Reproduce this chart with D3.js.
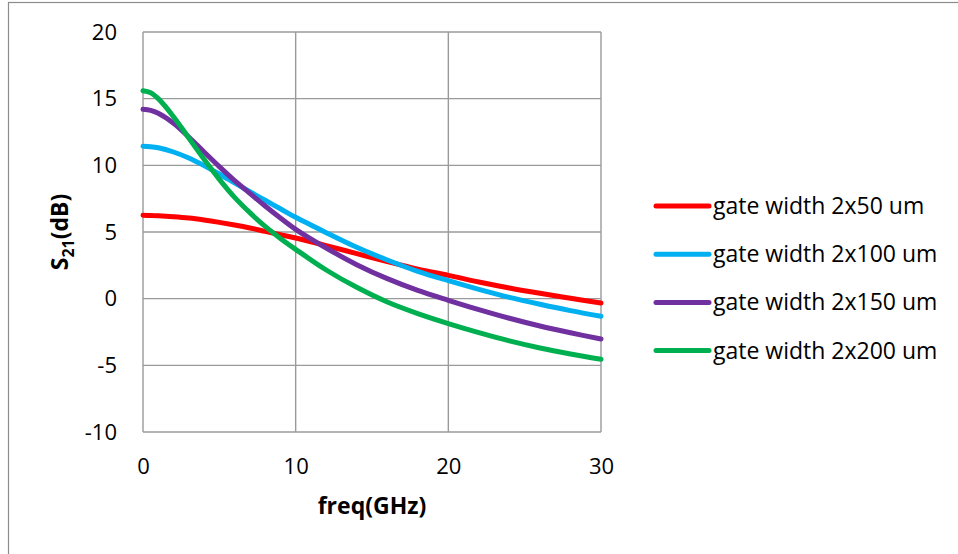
<!DOCTYPE html>
<html>
<head>
<meta charset="utf-8">
<script src="https://cdn.jsdelivr.net/npm/d3@7"></script>
<style>
html,body{margin:0;padding:0;background:#fff;}
svg{display:block;}
text{font-family:"Open Sans",Lato,sans-serif;fill:#000;}
</style>
</head>
<body>
<svg id="chart" width="958" height="554"></svg>
<script>
const freq = [0,0.5,1,2,3,4,5,6,7,8,9,10,12,14,16,18,20,22,24,26,28,30];
const s21_2x50  = [6.25,6.24,6.22,6.15,6.05,5.9,5.72,5.52,5.3,5.05,4.8,4.55,3.98,3.38,2.78,2.22,1.75,1.25,0.8,0.4,0.03,-0.33];
const s21_2x100 = [11.43,11.4,11.32,11.0,10.55,9.98,9.35,8.68,8.02,7.38,6.74,6.1,4.95,3.85,2.9,2.05,1.35,0.7,0.1,-0.42,-0.9,-1.32];
const s21_2x150 = [14.2,14.12,13.9,13.15,12.12,11.0,9.9,8.85,7.9,6.95,6.05,5.2,3.8,2.55,1.5,0.62,-0.12,-0.82,-1.47,-2.05,-2.56,-3.03];
const s21_2x200 = [15.6,15.45,15.0,13.65,12.05,10.45,8.95,7.6,6.45,5.42,4.52,3.7,2.15,0.85,-0.25,-1.12,-1.87,-2.55,-3.17,-3.7,-4.15,-4.55];
const seriesNames = ["gate width 2x50 um","gate width 2x100 um","gate width 2x150 um","gate width 2x200 um"];
const seriesColors = ["#FF0000","#00B0F0","#7030A0","#00B050"];
const xTicks = [0,10,20,30];
const yTicks = [-10,-5,0,5,10,15,20];

const seriesValues = [s21_2x50,s21_2x100,s21_2x150,s21_2x200];

const svg = d3.select("#chart");
svg.append("rect").attr("x",8.5).attr("y",2.5).attr("width",1000).attr("height",600)
  .attr("fill","none").attr("stroke","#8c8c8c").attr("stroke-width",1.2);

const x = d3.scaleLinear().domain([0,30]).range([143,601]);
const y = d3.scaleLinear().domain([-10,20]).range([432,32]);

const grid = svg.append("g");
grid.selectAll("line.h").data(yTicks).join("line")
  .attr("x1",x(0)).attr("x2",x(30)).attr("y1",d=>y(d)).attr("y2",d=>y(d))
  .attr("stroke","#9a9a9a").attr("stroke-width",1.4);
grid.selectAll("line.v").data(xTicks).join("line")
  .attr("y1",y(-10)).attr("y2",y(20)).attr("x1",d=>x(d)).attr("x2",d=>x(d))
  .attr("stroke","#9a9a9a").attr("stroke-width",1.4);

const fmt = d=>String(d);
const yAxis = svg.append("g").attr("transform",`translate(${x(0)},0)`)
  .call(d3.axisLeft(y).tickValues(yTicks).tickFormat(fmt).tickSize(0).tickPadding(26));
const xAxis = svg.append("g").attr("transform",`translate(0,${y(-10)})`)
  .call(d3.axisBottom(x).tickValues(xTicks).tickFormat(fmt).tickSize(0).tickPadding(26));
[yAxis,xAxis].forEach(a=>{
  a.select(".domain").remove();
  a.selectAll("text").style("font-family","'Open Sans',Lato,sans-serif").style("font-size","22px").attr("fill","#000");
});

const line = d3.line().x((d,i)=>x(freq[i])).y(d=>y(d)).curve(d3.curveCatmullRom.alpha(0.5));
svg.append("g").selectAll("path").data(seriesValues).join("path")
  .attr("d",d=>line(d)).attr("fill","none")
  .attr("stroke",(d,i)=>seriesColors[i]).attr("stroke-width",5).attr("stroke-linecap","round");

svg.append("text").attr("x",372).attr("y",514).attr("text-anchor","middle")
  .style("font-size","23px").style("font-weight","bold").text("freq(GHz)");
const yt = svg.append("text").attr("transform","translate(68,232) rotate(-90)").attr("text-anchor","middle")
  .style("font-size","23px").style("font-weight","bold");
yt.append("tspan").text("S");
yt.append("tspan").attr("dy",6).style("font-size","16px").text("21");
yt.append("tspan").attr("dy",-6).text("(dB)");

const lg = svg.append("g").selectAll("g").data(seriesNames).join("g")
  .attr("transform",(d,i)=>`translate(0,${206+i*48.2})`);
lg.append("line").attr("x1",656).attr("x2",709).attr("y1",0).attr("y2",0)
  .attr("stroke",(d,i)=>seriesColors[i]).attr("stroke-width",5).attr("stroke-linecap","round");
lg.append("text").attr("x",713).attr("y",8).style("font-size","23px").text(d=>d);
</script>
</body>
</html>
